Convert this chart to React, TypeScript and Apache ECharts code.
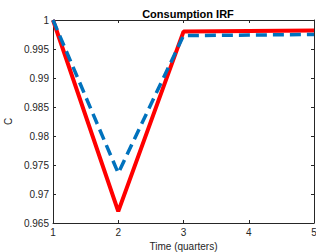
import React, { useEffect, useRef } from "react";
import * as echarts from "echarts";

const quarters = [1, 2, 3, 4, 5];
const redSeries = [1, 0.967, 0.998, 0.9981, 0.9982];
const blueSeries = [1, 0.9736, 0.9973, 0.9974, 0.9975];
const yMin = 0.965;
const yMax = 1;

export default function App() {
  const ref = useRef<HTMLDivElement>(null);
  useEffect(() => {
    const chart = echarts.init(ref.current!, null, { renderer: "svg" });
    const axisColor = "#262626";
    const font = "Liberation Sans";
    chart.setOption({
      animation: false,
      backgroundColor: "#ffffff",
      title: {
        text: "Consumption IRF",
        left: 183,
        textAlign: "center",
        top: 3,
        textStyle: { fontFamily: font, fontSize: 11, fontWeight: "bold", color: "#000" },
      },
      grid: { left: 53, top: 20, width: 261, height: 203, outerBoundsMode: "none", containLabel: false },
      xAxis: [
        {
          type: "value",
          min: 1,
          max: 5,
          interval: 1,
          name: "Time (quarters)",
          nameLocation: "middle",
          nameGap: 17,
          nameTextStyle: { fontFamily: font, fontSize: 10, color: axisColor },
          axisLine: { show: true, lineStyle: { color: axisColor, width: 1 } },
          axisTick: { show: true, inside: true, length: 3, lineStyle: { color: axisColor } },
          axisLabel: { fontFamily: font, fontSize: 10, color: axisColor, margin: 4 },
          splitLine: { show: false },
        },
        {
          type: "value",
          position: "top",
          min: 1,
          max: 5,
          interval: 1,
          axisLine: { show: true, lineStyle: { color: axisColor, width: 1 } },
          axisTick: { show: true, inside: true, length: 3, lineStyle: { color: axisColor } },
          axisLabel: { show: false },
          splitLine: { show: false },
        },
      ],
      yAxis: [
        {
          type: "value",
          min: yMin,
          max: yMax,
          interval: 0.005,
          name: "C",
          nameLocation: "middle",
          nameGap: 36,
          nameTextStyle: { fontFamily: font, fontSize: 10, color: axisColor },
          axisLine: { show: true, lineStyle: { color: axisColor, width: 1 } },
          axisTick: { show: true, inside: true, length: 3, lineStyle: { color: axisColor } },
          axisLabel: {
            fontFamily: font,
            fontSize: 10,
            color: axisColor,
            margin: 4,
            formatter: (v: number) => String(parseFloat(v.toFixed(3))),
          },
          splitLine: { show: false },
        },
        {
          type: "value",
          position: "right",
          min: yMin,
          max: yMax,
          interval: 0.005,
          axisLine: { show: true, lineStyle: { color: axisColor, width: 1 } },
          axisTick: { show: true, inside: true, length: 3, lineStyle: { color: axisColor } },
          axisLabel: { show: false },
          splitLine: { show: false },
        },
      ],
      series: [
        {
          type: "line",
          data: quarters.map((q, i) => [q, redSeries[i]]),
          showSymbol: false,
          lineStyle: { color: "#ff0000", width: 4 },
          z: 2,
        },
        {
          type: "line",
          data: quarters.map((q, i) => [q, blueSeries[i]]),
          showSymbol: false,
          lineStyle: { color: "#0072bd", width: 3.5, type: [11, 6] },
          z: 3,
        },
      ],
    });
    return () => chart.dispose();
  }, []);
  return <div ref={ref} style={{ width: 316, height: 252, position: "absolute", left: 0, top: 0 }} />;
}
